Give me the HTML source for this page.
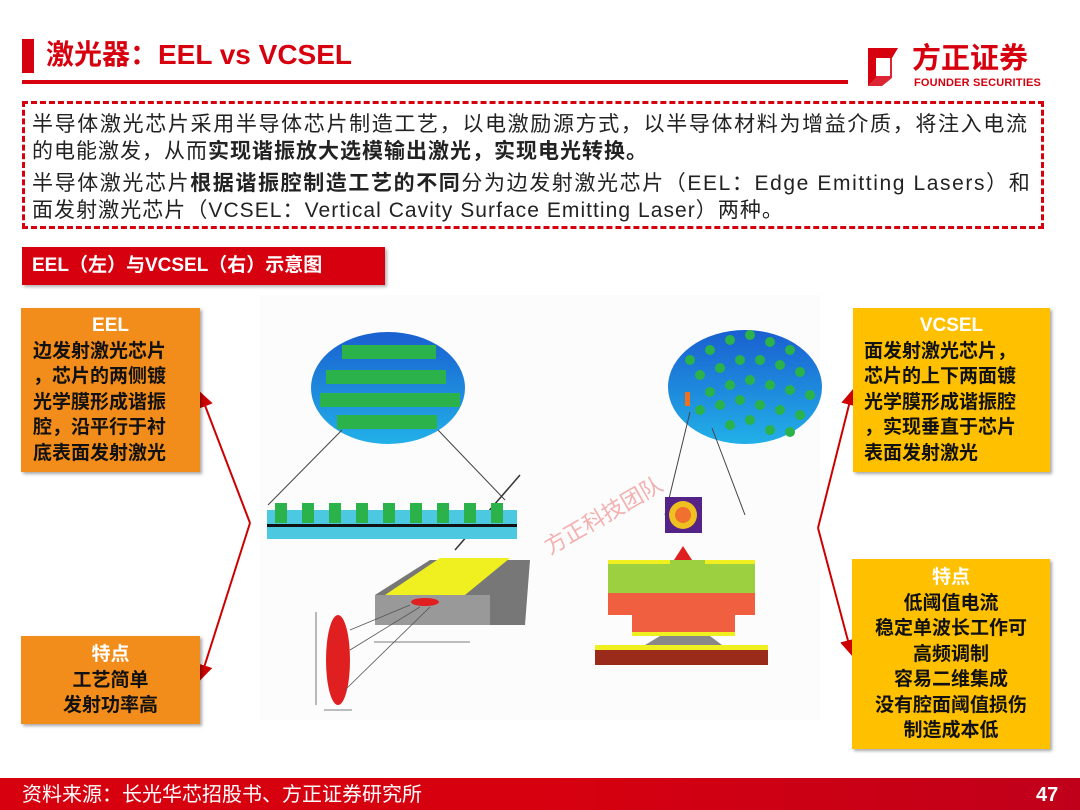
<!DOCTYPE html>
<html><head><meta charset="utf-8"><style>
*{margin:0;padding:0;box-sizing:border-box}
body{width:1080px;height:810px;position:relative;background:#fff;font-family:"Liberation Sans","Noto Sans CJK SC",sans-serif;overflow:hidden}
.abs{position:absolute}
.box{position:absolute;color:#111;font-weight:bold;font-size:19px;line-height:25.5px;box-shadow:2px 2px 3px rgba(0,0,0,.35)}
.box .h{color:#fff}
.t{font-size:21px;color:#222;line-height:26px;white-space:nowrap;letter-spacing:1px}
</style></head><body>
<div class="abs" style="left:22px;top:39px;width:12px;height:34px;background:#d7000f"></div>
<div class="abs" style="left:46px;top:37px;font-size:28px;font-weight:bold;color:#d7000f;line-height:36px">激光器：EEL vs VCSEL</div>
<div class="abs" style="left:22px;top:80px;width:826px;height:4px;background:#d7000f"></div>
<svg class="abs" style="left:862px;top:44px" width="50" height="46"><path d="M6 4H36L30 14H14V34L6 42Z" fill="#d7000f"/><path d="M14 14H30V34L20 42H6L14 34Z" fill="#d7000f" opacity=".85"/><rect x="14" y="14" width="14" height="18" fill="#fff"/></svg>
<div class="abs" style="left:912px;top:42px;font-size:29px;font-weight:bold;color:#d7000f;line-height:34px">方正证券</div>
<div class="abs" style="left:914px;top:77px;font-size:11px;font-weight:bold;color:#d7000f;letter-spacing:.2px">FOUNDER SECURITIES</div>
<div class="abs" style="left:22px;top:101px;width:1022px;height:128px;border:3px dashed #d7000f"></div>
<div class="abs t" style="left:32px;top:112px;letter-spacing:1.65px">半导体激光芯片采用半导体芯片制造工艺，以电激励源方式，以半导体材料为增益介质，将注入电流</div>
<div class="abs t" style="left:32px;top:139px">的电能激发，从而<b>实现谐振放大选模输出激光，实现电光转换。</b></div>
<div class="abs t" style="left:32px;top:171px;letter-spacing:1.6px">半导体激光芯片<b>根据谐振腔制造工艺的不同</b>分为边发射激光芯片（EEL：Edge Emitting Lasers）和</div>
<div class="abs t" style="left:32px;top:198px;letter-spacing:1.05px">面发射激光芯片（VCSEL：Vertical Cavity Surface Emitting Laser）两种。</div>
<div class="abs" style="left:22px;top:247px;width:363px;height:38px;background:#d7000f;color:#fff;font-weight:bold;font-size:19px;line-height:38px;padding-left:10px;box-shadow:2px 2px 3px rgba(0,0,0,.3)">EEL（左）与VCSEL（右）示意图</div>

<svg class="abs" style="left:0;top:0" width="1080" height="810">
<defs>
<linearGradient id="g1" x1="0" y1="0" x2="0" y2="1"><stop offset="0" stop-color="#1a5fd0"/><stop offset="1" stop-color="#22b0e8"/></linearGradient>
<marker id="ar" markerWidth="8" markerHeight="8" refX="6" refY="4" orient="auto"><path d="M0 0L8 4L0 8Z" fill="#c00"/></marker>
</defs>
<rect x="260" y="295" width="560" height="425" fill="#fcfcfc"/>
<ellipse cx="388" cy="388" rx="77" ry="56" fill="url(#g1)"/>
<rect x="342" y="345" width="94" height="14" fill="#2bb24a"/>
<rect x="326" y="370" width="120" height="14" fill="#2bb24a"/>
<rect x="320" y="393" width="140" height="14" fill="#2bb24a"/>
<rect x="337" y="415" width="100" height="14" fill="#2bb24a"/>
<line x1="342" y1="430" x2="268" y2="505" stroke="#444"/><line x1="438" y1="430" x2="505" y2="500" stroke="#444"/>
<line x1="520" y1="475" x2="455" y2="550" stroke="#333" stroke-width="1.5"/>
<rect x="267" y="510" width="250" height="14" fill="#4cc8e0"/>
<rect x="267" y="524" width="250" height="3" fill="#111"/>
<rect x="267" y="527" width="250" height="12" fill="#4cc8e0"/>
<g fill="#2bb24a"><rect x="275" y="503" width="12" height="20"/><rect x="302" y="503" width="12" height="20"/><rect x="329" y="503" width="12" height="20"/><rect x="356" y="503" width="12" height="20"/><rect x="383" y="503" width="12" height="20"/><rect x="410" y="503" width="12" height="20"/><rect x="437" y="503" width="12" height="20"/><rect x="464" y="503" width="12" height="20"/><rect x="491" y="503" width="12" height="20"/></g>
<path d="M375 595L430 560H530L525 625L490 625L375 625Z" fill="#777"/>
<path d="M375 595H490V625H375Z" fill="#999"/>
<path d="M385 595L440 558H510L465 595Z" fill="#f0f020"/>
<ellipse cx="425" cy="602" rx="14" ry="4" fill="#e02020"/>
<ellipse cx="338" cy="660" rx="12" ry="45" fill="#e02020"/>
<g stroke="#555" stroke-width=".8"><line x1="350" y1="630" x2="410" y2="605"/><line x1="350" y1="650" x2="420" y2="607"/><line x1="345" y1="690" x2="430" y2="607"/><line x1="316" y1="612" x2="316" y2="705"/><line x1="374" y1="642" x2="470" y2="642"/><line x1="324" y1="710" x2="352" y2="710"/></g>
<ellipse cx="745" cy="387" rx="77" ry="57" fill="url(#g1)"/>
<g fill="#2bb24a">
<circle cx="690" cy="360" r="5"/><circle cx="710" cy="350" r="5"/><circle cx="730" cy="340" r="5"/><circle cx="750" cy="335" r="5"/><circle cx="770" cy="342" r="5"/><circle cx="790" cy="350" r="5"/>
<circle cx="700" cy="375" r="5"/><circle cx="720" cy="368" r="5"/><circle cx="740" cy="360" r="5"/><circle cx="760" cy="360" r="5"/><circle cx="780" cy="365" r="5"/><circle cx="800" cy="372" r="5"/>
<circle cx="710" cy="392" r="5"/><circle cx="730" cy="385" r="5"/><circle cx="750" cy="380" r="5"/><circle cx="770" cy="385" r="5"/><circle cx="790" cy="390" r="5"/><circle cx="810" cy="395" r="5"/>
<circle cx="700" cy="410" r="5"/><circle cx="720" cy="405" r="5"/><circle cx="740" cy="400" r="5"/><circle cx="760" cy="405" r="5"/><circle cx="780" cy="410" r="5"/><circle cx="800" cy="415" r="5"/>
<circle cx="730" cy="425" r="5"/><circle cx="750" cy="420" r="5"/><circle cx="770" cy="430" r="5"/><circle cx="790" cy="432" r="5"/>
</g>
<rect x="685" y="392" width="5" height="14" fill="#f07020"/>
<line x1="690" y1="412" x2="665" y2="515" stroke="#444"/><line x1="712" y1="428" x2="745" y2="515" stroke="#444"/>
<rect x="665" y="497" width="37" height="36" fill="#552288"/>
<circle cx="683" cy="515" r="14" fill="#f0c020"/><circle cx="683" cy="515" r="8" fill="#f07030"/>
<path d="M680 580V560H674L683 546L692 560H686V580Z" fill="#e02020"/>
<rect x="608" y="560" width="147" height="33" fill="#9cd040"/>
<rect x="608" y="560" width="62" height="4" fill="#f0f020"/><rect x="705" y="560" width="50" height="4" fill="#f0f020"/>
<rect x="608" y="593" width="147" height="22" fill="#f06040"/>
<rect x="632" y="615" width="103" height="20" fill="#f06040"/>
<rect x="632" y="632" width="103" height="4" fill="#f0f020"/>
<path d="M645 645L660 636H710L722 645Z" fill="#888"/>
<rect x="595" y="645" width="173" height="5" fill="#f0f020"/>
<rect x="595" y="650" width="173" height="15" fill="#9a2a1a"/>
<text x="550" y="555" font-size="22" fill="#f3b0b0" transform="rotate(-30 550 555)" font-family="Liberation Sans,Noto Sans CJK SC,sans-serif">方正科技团队</text>
<polyline points="250,523 201,395" fill="none" stroke="#c00" stroke-width="2" marker-end="url(#ar)"/>
<polyline points="250,523 201,677" fill="none" stroke="#c00" stroke-width="2" marker-end="url(#ar)"/>
<polyline points="818,528 852,393" fill="none" stroke="#c00" stroke-width="2" marker-end="url(#ar)"/>
<polyline points="818,528 851,652" fill="none" stroke="#c00" stroke-width="2" marker-end="url(#ar)"/>
</svg>

<div class="box" style="left:21px;top:308px;width:179px;height:164px;background:#f28c1a;padding:5px 0 0 12px"><div class="h" style="text-align:center;padding-right:12px">EEL</div>边发射激光芯片<br>，芯片的两侧镀<br>光学膜形成谐振<br>腔，沿平行于衬<br>底表面发射激光</div>
<div class="box" style="left:21px;top:636px;width:179px;height:88px;background:#f28c1a;padding-top:6px;text-align:center"><div class="h">特点</div>工艺简单<br>发射功率高</div>
<div class="box" style="left:853px;top:308px;width:197px;height:164px;background:#ffc000;padding:5px 0 0 11px"><div class="h" style="text-align:center;padding-right:11px">VCSEL</div>面发射激光芯片，<br>芯片的上下两面镀<br>光学膜形成谐振腔<br>，实现垂直于芯片<br>表面发射激光</div>
<div class="box" style="left:852px;top:559px;width:198px;height:190px;background:#ffc000;padding-top:6px;text-align:center"><div class="h">特点</div>低阈值电流<br>稳定单波长工作可<br>高频调制<br>容易二维集成<br>没有腔面阈值损伤<br>制造成本低</div>

<div class="abs" style="left:0;top:778px;width:1080px;height:32px;background:linear-gradient(90deg,#d7000f 0%,#d7000f 50%,#c0001a 100%)"></div>
<div class="abs" style="left:22px;top:781px;font-size:20px;color:#fff;line-height:28px">资料来源：长光华芯招股书、方正证券研究所</div>
<div class="abs" style="left:1036px;top:781px;font-size:20px;font-weight:bold;color:#fff;line-height:28px">47</div>
</body></html>
